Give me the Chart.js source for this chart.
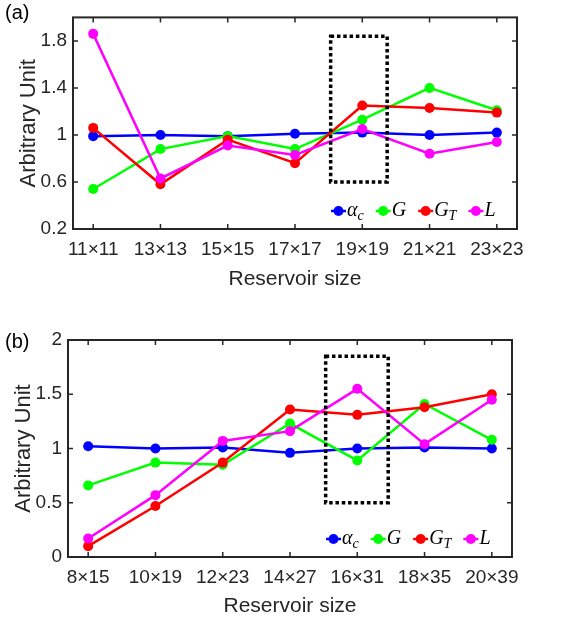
<!DOCTYPE html>
<html>
<head>
<meta charset="utf-8">
<script src="https://cdn.jsdelivr.net/npm/chart.js@4.4.1/dist/chart.umd.min.js"></script>
<style>
  html, body { margin: 0; padding: 0; background: #fff; }
  .panel { position: relative; width: 568px; height: 311px; }
  canvas { display: block; }
  .tag { position: absolute; left: 5px; font: 20px "Liberation Sans", Arial, sans-serif; color: #000; }
</style>
</head>
<body>
<div class="panel"><canvas id="chartA" width="568" height="311"></canvas><span class="tag" style="top:1px">(a)</span></div>
<div class="panel"><canvas id="chartB" width="568" height="311"></canvas><span class="tag" style="top:19px">(b)</span></div>
<script>
// panel (a)
const sizesA = ["11×11", "13×13", "15×15", "17×17", "19×19", "21×21", "23×23"];
const alphaA = [0.99, 1.00, 0.99, 1.01, 1.02, 1.00, 1.02];
const gA     = [0.54, 0.88, 0.99, 0.88, 1.13, 1.40, 1.21];
const gtA    = [1.06, 0.58, 0.96, 0.76, 1.25, 1.23, 1.19];
const lA     = [1.86, 0.63, 0.91, 0.83, 1.05, 0.84, 0.94];
const yTicksA = [0.2, 0.6, 1, 1.4, 1.8];
const boxA = [3.53, 4.37, 0.6, 1.84];   // x0, x1, y0, y1 (data units)

// panel (b)
const sizesB = ["8×15", "10×19", "12×23", "14×27", "16×31", "18×35", "20×39"];
const alphaB = [1.02, 1.00, 1.01, 0.96, 1.00, 1.01, 1.00];
const gB     = [0.66, 0.87, 0.85, 1.23, 0.89, 1.41, 1.08];
const gtB    = [0.10, 0.47, 0.87, 1.36, 1.31, 1.38, 1.50];
const lB     = [0.17, 0.57, 1.07, 1.16, 1.55, 1.04, 1.45];
const yTicksB = [0, 0.5, 1, 1.5, 2];
const boxB = [3.53, 4.46, 0.5, 1.85];

const colors = ["#0000ff", "#00ff00", "#ff0000", "#ff00ff"];
// legend entries: [main, subscript]
const legendNames = [["α", "c"], ["G", ""], ["G", "T"], ["L", ""]];

const axisColor = "#262626";
const sansFont = '"Liberation Sans", Arial, sans-serif';
const mathFont = '"Liberation Serif", "Times New Roman", serif';

const panelDeco = {
  id: "panelDeco",
  afterDatasetsDraw(chart, args, opts) {
    const { ctx, scales: { x, y } } = chart;
    const b = opts.box;
    const x0 = x.getPixelForValue(b[0]), x1 = x.getPixelForValue(b[1]);
    const y0 = y.getPixelForValue(b[3]), y1 = y.getPixelForValue(b[2]);
    ctx.save();
    ctx.strokeStyle = "#000";
    ctx.lineWidth = 3.5;
    ctx.setLineDash([3.5, 2.8]);
    ctx.strokeRect(x0, y0, x1 - x0, y1 - y0);
    ctx.restore();
  },
  afterDraw(chart, args, opts) {
    const { ctx, chartArea: a, scales: { x, y } } = chart;
    ctx.save();
    // box frame with inward ticks on all sides
    ctx.strokeStyle = axisColor;
    ctx.lineWidth = 2;
    ctx.strokeRect(a.left, a.top, a.right - a.left, a.bottom - a.top);
    ctx.lineWidth = 1.5;
    ctx.beginPath();
    x.ticks.forEach(t => {
      const px = x.getPixelForValue(t.value);
      ctx.moveTo(px, a.bottom); ctx.lineTo(px, a.bottom - 5);
      ctx.moveTo(px, a.top); ctx.lineTo(px, a.top + 5);
    });
    y.ticks.forEach(t => {
      const py = y.getPixelForValue(t.value);
      ctx.moveTo(a.left, py); ctx.lineTo(a.left + 5, py);
      ctx.moveTo(a.right, py); ctx.lineTo(a.right - 5, py);
    });
    ctx.stroke();

    // legend inside the lower right corner
    let lx = a.right - 186;
    const ly = a.bottom - 18;
    ctx.textBaseline = "middle";
    ctx.textAlign = "left";
    legendNames.forEach((name, i) => {
      ctx.strokeStyle = colors[i];
      ctx.fillStyle = colors[i];
      ctx.lineWidth = 2.5;
      ctx.beginPath();
      ctx.moveTo(lx, ly); ctx.lineTo(lx + 15, ly);
      ctx.stroke();
      ctx.beginPath();
      ctx.arc(lx + 7.5, ly, 5, 0, Math.PI * 2);
      ctx.fill();
      let tx = lx + 16;
      ctx.fillStyle = "#000";
      ctx.font = "italic 20px " + mathFont;
      ctx.fillText(name[0], tx, ly);
      tx += ctx.measureText(name[0]).width;
      if (name[1]) {
        ctx.font = "italic 14px " + mathFont;
        ctx.fillText(name[1], tx, ly + 5);
        tx += ctx.measureText(name[1]).width;
      }
      lx = tx + 12;
    });
    ctx.restore();
  }
};

function makePanel(id, labels, series, yTicks, yMin, yMax, box, area, xTitlePad, yTitlePad) {
  const datasets = series.map((vals, i) => ({
    data: vals.map((v, k) => ({ x: k, y: v })),
    borderColor: colors[i],
    backgroundColor: colors[i],
    borderWidth: 2.5,
    pointRadius: 5,
    pointHoverRadius: 5,
    pointBorderWidth: 0,
    order: series.length - i
  }));
  return new Chart(document.getElementById(id), {
    type: "line",
    data: { datasets },
    plugins: [panelDeco],
    options: {
      responsive: false,
      animation: false,
      events: [],
      layout: { padding: { top: area.top, right: 568 - area.right, left: 0, bottom: 0 } },
      plugins: {
        legend: { display: false },
        tooltip: { enabled: false },
        panelDeco: { box }
      },
      scales: {
        x: {
          type: "linear",
          min: -0.3,
          max: labels.length - 0.7,
          grid: { display: false, drawTicks: false },
          border: { display: false },
          afterBuildTicks: s => { s.ticks = labels.map((_, k) => ({ value: k })); },
          afterFit: s => { s.height = 311 - area.bottom; },
          ticks: {
            autoSkip: false,
            maxRotation: 0,
            padding: 9,
            color: axisColor,
            font: { family: sansFont, size: 19 },
            callback: v => labels[v]
          },
          title: {
            display: true,
            text: "Reservoir size",
            color: axisColor,
            font: { family: sansFont, size: 21 },
            padding: { top: 0, bottom: xTitlePad }
          }
        },
        y: {
          min: yMin,
          max: yMax,
          grid: { display: false, drawTicks: false },
          border: { display: false },
          afterBuildTicks: s => { s.ticks = yTicks.map(v => ({ value: v })); },
          afterFit: s => { s.width = area.left; },
          ticks: {
            padding: 6,
            color: axisColor,
            font: { family: sansFont, size: 19 },
            callback: v => String(v)
          },
          title: {
            display: true,
            text: "Arbitrary Unit",
            color: axisColor,
            font: { family: sansFont, size: 22 },
            padding: { top: yTitlePad, bottom: 0 }
          }
        }
      }
    }
  });
}

makePanel("chartA", sizesA, [alphaA, gA, gtA, lA], yTicksA, 0.2, 2.0, boxA,
  { left: 73, right: 517, top: 12, bottom: 229 }, 19, 16);
makePanel("chartB", sizesB, [alphaB, gB, gtB, lB], yTicksB, 0, 2, boxB,
  { left: 68, right: 512, top: 29, bottom: 246 }, 3, 11);
</script>
</body>
</html>
